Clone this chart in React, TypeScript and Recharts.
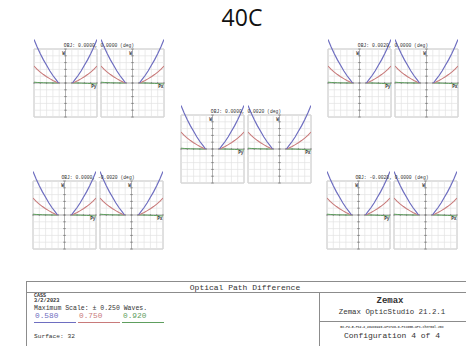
import { LineChart, Line, XAxis, YAxis, ReferenceLine, ReferenceArea, ReferenceDot } from 'recharts';

// normalised pupil coordinate (central obscuration leaves a gap near 0)
const pupil = [-1, -0.9, -0.8, -0.7, -0.6, -0.5, -0.4, -0.3, -0.22, 0, 0.22, 0.3, 0.4, 0.5, 0.6, 0.7, 0.8, 0.9, 1];
// OPD in waves per wavelength
const opd580 = [0.32, 0.265, 0.215, 0.17, 0.13, 0.09, 0.055, 0.025, 0, null, 0, 0.025, 0.055, 0.09, 0.13, 0.17, 0.215, 0.265, 0.32];
const opd750 = [0.125, 0.1, 0.08, 0.062, 0.046, 0.032, 0.019, 0.008, 0, null, 0, 0.008, 0.019, 0.032, 0.046, 0.062, 0.08, 0.1, 0.125];
const opd920 = [0.006, 0.004, 0.003, 0.002, 0.001, 0.001, 0, 0, 0, null, 0, 0, 0, -0.001, -0.002, -0.003, -0.004, -0.006, -0.008];

const wavelengths = ['0.580', '0.750', '0.920'];
const fieldLabels = [
  'OBJ: 0.0000, 0.0000 (deg)',
  'OBJ: 0.0020, 0.0000 (deg)',
  'OBJ: 0.0000, 0.0020 (deg)',
  'OBJ: 0.0000, -0.0020 (deg)',
  'OBJ: -0.0020, 0.0000 (deg)',
];
const gridX = [-1, -0.8, -0.6, -0.4, -0.2, 0, 0.2, 0.4, 0.6, 0.8, 1];
const gridY = [-0.25, -0.2, -0.15, -0.1, -0.05, 0, 0.05, 0.1, 0.15, 0.2, 0.25];

const fanData = pupil.map((p, i) => ({ p, w1: opd580[i], w2: opd750[i], w3: opd920[i] }));

// layout
const PANEL_W = 63;
const PANEL_H = 68;
const EXTRA = 14; // room above the box for curves that overshoot the scale
const PAD = 1;
const Y_TOP = 0.25 + (0.5 * EXTRA) / PANEL_H;
const PAIR_STEP = 67;
const pairPos = [
  { left: 34, top: 49 },
  { left: 328, top: 49 },
  { left: 181, top: 115 },
  { left: 33, top: 181 },
  { left: 327, top: 181 },
];

const BLUE = '#6e6ec0';
const RED = '#c87a7a';
const GREEN = '#5e9e5e';
const MONO = '"Liberation Mono", "DejaVu Sans Mono", monospace';

function FanPanel({ left, top, axis }: { left: number; top: number; axis: string }) {
  return (
    <div style={{ position: 'absolute', left: left - PAD, top: top - EXTRA }}>
      <LineChart
        width={PANEL_W + PAD * 2}
        height={PANEL_H + EXTRA + PAD}
        data={fanData}
        margin={{ top: 0, right: PAD, bottom: PAD, left: PAD }}
      >
        <XAxis type="number" dataKey="p" domain={[-1, 1]} allowDataOverflow hide />
        <YAxis type="number" domain={[-0.25, Y_TOP]} allowDataOverflow hide />
        {gridX.map((x) => (
          <ReferenceLine key={'gx' + x} segment={[{ x, y: -0.25 }, { x, y: 0.25 }]} stroke="#e2e2e2" strokeWidth={0.7} />
        ))}
        {gridY.map((y) => (
          <ReferenceLine key={'gy' + y} segment={[{ x: -1, y }, { x: 1, y }]} stroke="#e2e2e2" strokeWidth={0.7} />
        ))}
        <ReferenceArea x1={-1} x2={1} y1={-0.25} y2={0.25} fill="none" stroke="#b0b0b0" strokeWidth={0.8} />
        <ReferenceLine segment={[{ x: 0, y: -0.25 }, { x: 0, y: 0.25 }]} stroke="#999" strokeWidth={0.7} />
        <ReferenceLine segment={[{ x: -1, y: 0 }, { x: 1, y: 0 }]} stroke="#999" strokeWidth={0.7} />
        {gridY.map((y) => (
          <ReferenceLine key={'ty' + y} segment={[{ x: -0.04, y }, { x: 0.04, y }]} stroke="#777" strokeWidth={0.8} />
        ))}
        {gridX.map((x) => (
          <ReferenceLine key={'tx' + x} segment={[{ x, y: -0.007 }, { x, y: 0.007 }]} stroke="#777" strokeWidth={0.8} />
        ))}
        <ReferenceDot
          x={-0.06}
          y={0.22}
          r={0}
          label={{ value: 'W', fontSize: 4.5, fontWeight: 700, fill: '#333', fontFamily: MONO }}
        />
        <ReferenceDot
          x={0.9}
          y={-0.022}
          r={0}
          label={{ value: axis, fontSize: 4.5, fontWeight: 700, fill: '#333', fontFamily: MONO }}
        />
        <Line dataKey="w3" stroke={GREEN} strokeWidth={1} dot={false} isAnimationActive={false} />
        <Line dataKey="w2" stroke={RED} strokeWidth={1.1} dot={false} isAnimationActive={false} />
        <Line dataKey="w1" stroke={BLUE} strokeWidth={1.2} dot={false} isAnimationActive={false} />
      </LineChart>
    </div>
  );
}

function InfoBox() {
  const line = '#8c8c8c';
  const txt = '#333';
  return (
    <svg width={466} height={346} style={{ position: 'absolute', left: 0, top: 0 }}>
      <rect x={26.5} y={281.5} width={460} height={80} fill="none" stroke={line} />
      <line x1={26} y1={292.5} x2={466} y2={292.5} stroke={line} />
      <line x1={319.5} y1={292} x2={319.5} y2={346} stroke={line} />
      <line x1={319} y1={321.5} x2={466} y2={321.5} stroke={line} />
      <text x={245} y={289.5} textAnchor="middle" fontFamily={MONO} fontSize={8} fill={txt}>
        Optical Path Difference
      </text>
      <text x={34} y={296.5} fontFamily={MONO} fontSize={5} fontWeight={700} fill={txt}>CASS</text>
      <text x={34} y={302.3} fontFamily={MONO} fontSize={5.3} fontWeight={700} fill={txt}>3/2/2023</text>
      <text x={34} y={309.6} fontFamily={MONO} fontSize={6.5} fill={txt}>Maximum Scale: ± 0.250 Waves.</text>
      {wavelengths.map((w, i) => (
        <g key={w}>
          <text x={35 + i * 44} y={318} fontFamily={MONO} fontSize={7.8} fill={[BLUE, RED, GREEN][i]}>
            {w}
          </text>
          <line x1={34 + i * 44} y1={322.5} x2={76 + i * 44} y2={322.5} stroke={[BLUE, RED, GREEN][i]} strokeWidth={1} />
        </g>
      ))}
      <text x={34} y={338} fontFamily={MONO} fontSize={6.2} fill={txt}>Surface: 32</text>
      <text x={390} y={302.5} textAnchor="middle" fontFamily={MONO} fontSize={9} fontWeight={700} fill={txt}>
        Zemax
      </text>
      <text x={392} y={313.5} textAnchor="middle" fontFamily={MONO} fontSize={7.4} fill={txt}>
        Zemax OpticStudio 21.2.1
      </text>
      <text x={392} y={327.5} textAnchor="middle" fontFamily={MONO} fontSize={3.2} fontWeight={700} fill="#555">
        BC-F2-5-FS2-2_20230226-wFs720-6-FS10mm-wFs-thermal.zmx
      </text>
      <text x={392} y={337.5} textAnchor="middle" fontFamily={MONO} fontSize={8} fill={txt}>
        Configuration 4 of 4
      </text>
    </svg>
  );
}

export default function App() {
  return (
    <div style={{ position: 'absolute', left: 0, top: 0, width: 466, height: 346, overflow: 'hidden', background: '#fff' }}>
      <div
        style={{
          position: 'absolute',
          left: 0,
          width: 484,
          top: 3,
          textAlign: 'center',
          fontFamily: '"Open Sans", "Liberation Sans", sans-serif',
          fontSize: 23,
          lineHeight: '28px',
          color: '#111',
        }}
      >
        40C
      </div>
      <InfoBox />
      {pairPos.map((pos, i) => (
        <div key={i}>
          <FanPanel left={pos.left} top={pos.top} axis="Py" />
          <FanPanel left={pos.left + PAIR_STEP} top={pos.top} axis="Px" />
          <div
            style={{
              position: 'absolute',
              left: pos.left + 10,
              width: PANEL_W * 2 + 4 - 20,
              top: pos.top - 6,
              textAlign: 'center',
              fontFamily: MONO,
              fontSize: 4.7,
              lineHeight: '5px',
              color: '#333',
              whiteSpace: 'nowrap',
            }}
          >
            {fieldLabels[i]}
          </div>
        </div>
      ))}
    </div>
  );
}
